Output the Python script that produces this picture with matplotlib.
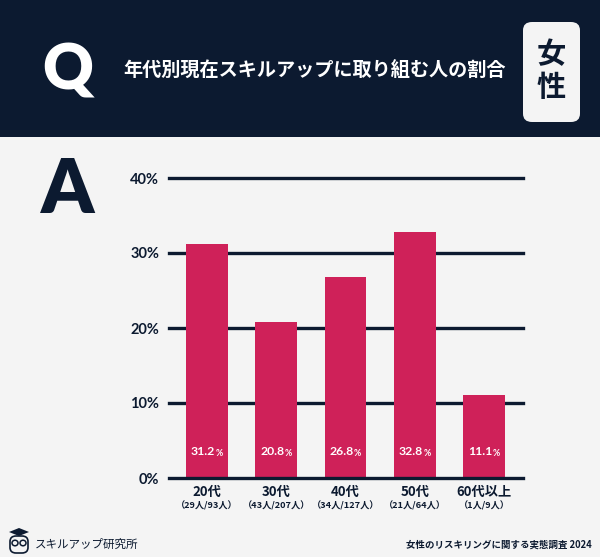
import matplotlib
matplotlib.use("Agg")
import matplotlib.pyplot as plt
from matplotlib.patches import Rectangle, FancyBboxPatch, Circle, Polygon
import matplotlib.transforms as mtransforms

# data
ages = ["20代", "30代", "40代", "50代", "60代以上"]
counts = ["（29人/93人）", "（43人/207人）", "（34人/127人）", "（21人/64人）", "（1人/9人）"]
rates = [31.2, 20.8, 26.8, 32.8, 11.1]
yticks = [0, 10, 20, 30, 40]

title = "年代別現在スキルアップに取り組む人の割合"
badge = "女性"
brand = "スキルアップ研究所"
source = "女性のリスキリングに関する実態調査 2024"

NAVY = "#0c1a30"
BG = "#f4f4f4"
BAR = "#cf2159"
JP = ["Noto Sans CJK JP", "DejaVu Sans"]
W, H = 600, 557


def px(x, y):
    return x / W, 1 - y / H


fig = plt.figure(figsize=(W / 100, H / 100), dpi=100)
fig.patch.set_facecolor(BG)

# header band
fig.patches.append(Rectangle(px(0, 137), 1, 137 / H, transform=fig.transFigure,
                             facecolor=NAVY, edgecolor="none", zorder=0))
fig.text(*px(68, 71), "Q", color="white", fontsize=45, fontweight="heavy",
         family="Lato", ha="center", va="center")
fig.text(*px(123, 71), title, color="white", fontsize=13.8, fontweight="bold",
         family=JP, ha="left", va="center")
bx, by = px(523, 122)
fig.patches.append(FancyBboxPatch((bx, by), 57 / W, 100 / H, transform=fig.transFigure,
                                  boxstyle="round,pad=0,rounding_size=0.015",
                                  facecolor=BG, edgecolor="none", zorder=1))
fig.text(*px(551, 54), badge[0], color=NAVY, fontsize=21, fontweight="bold",
         family=JP, ha="center", va="center", zorder=2)
fig.text(*px(551, 87), badge[1], color=NAVY, fontsize=21, fontweight="bold",
         family=JP, ha="center", va="center", zorder=2)

fig.text(*px(68, 191), "A", color=NAVY, fontsize=54, fontweight="heavy",
         family="Lato", ha="center", va="center")

# chart
left, right, top, bottom = 169, 523, 178, 478
ax = fig.add_axes([left / W, 1 - bottom / H, (right - left) / W, (bottom - top) / H])
ax.set_facecolor("none")
x = list(range(len(ages)))
ax.bar(x, rates, width=0.6, color=BAR, zorder=2)
ax.set_xlim(-0.545, 4.56)
ax.set_ylim(0, 40)
for v in yticks:
    ax.axhline(v, color=NAVY, lw=2.4, zorder=3 if v == 0 else 1, clip_on=False)
ax.set_yticks(yticks)
ax.set_yticklabels([f"{v}%" for v in yticks], fontsize=10.5, fontweight="bold",
                   color=NAVY, family="Lato")
ax.tick_params(axis="y", length=0, pad=7)
ax.set_xticks([])
for s in ax.spines.values():
    s.set_visible(False)

fig.canvas.draw()
r = fig.canvas.get_renderer()
for i, v in enumerate(rates):
    t1 = ax.text(i, 3.5, f"{v}", color="white", fontsize=8.8, fontweight="bold",
                 family="Lato", ha="left", va="center", zorder=4)
    t2 = ax.text(i, 3.3, "%", color="white", fontsize=6.3, fontweight="bold",
                 family="Lato", ha="left", va="center", zorder=4)
    w1 = t1.get_window_extent(r).width
    w2 = t2.get_window_extent(r).width
    shift = -(w1 + w2) / 2
    t1.set_transform(ax.transData + mtransforms.Affine2D().translate(shift, 0))
    t2.set_transform(ax.transData + mtransforms.Affine2D().translate(shift + w1, 0))
    ax.text(i, -1.85, ages[i], color=NAVY, fontsize=9.5, fontweight="bold",
            family=JP, ha="center", va="center")
    ax.text(i, -3.7, counts[i], color=NAVY, fontsize=6.6, fontweight="bold",
            family=JP, ha="center", va="center")

# footer: simple owl logo
lx, ly = 19, 543
fig.patches.append(Polygon([px(lx - 10, ly - 11), px(lx, ly - 15), px(lx + 10, ly - 11), px(lx, ly - 7)],
                           transform=fig.transFigure, facecolor=NAVY, edgecolor="none"))
fig.patches.append(FancyBboxPatch(px(lx - 9, ly + 10), 18 / W, 17 / H, transform=fig.transFigure,
                                  boxstyle="round,pad=0,rounding_size=0.01",
                                  facecolor="none", edgecolor=NAVY, lw=1.2))
for dx in (-4, 4):
    fig.patches.append(Circle(px(lx + dx, ly), 3 / W, transform=fig.transFigure,
                              facecolor="none", edgecolor=NAVY, lw=1.1))
fig.text(*px(35, 544), brand, color=NAVY, fontsize=8.3, family=JP,
         ha="left", va="center")
fig.text(*px(592, 545), source, color=NAVY, fontsize=6.8, fontweight="bold",
         family=JP, ha="right", va="center")

fig.savefig("out.png", dpi=100, facecolor=BG)
